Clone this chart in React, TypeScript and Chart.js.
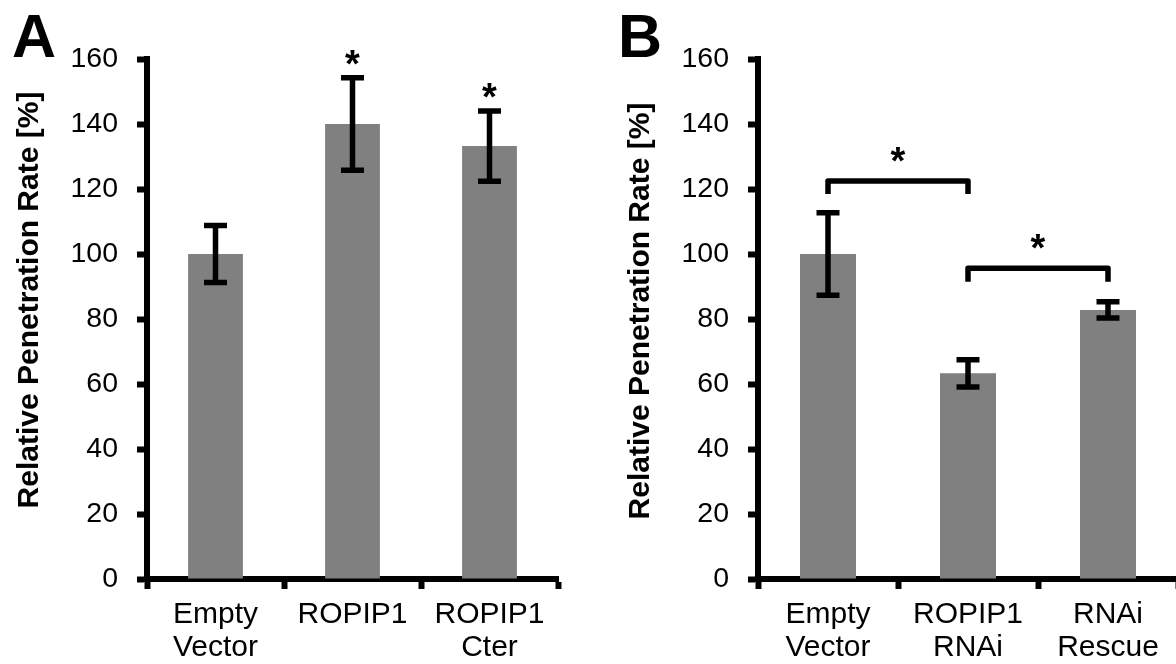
import React, { useEffect, useRef } from "react";
import { Chart, registerables } from "chart.js";

Chart.register(...registerables);

// ---------- data ----------
const categoriesA: (string | string[])[] = [["Empty", "Vector"], "ROPIP1", ["ROPIP1", "Cter"]];
const valuesA = [100, 140, 133.2];
const errorsA = [8.8, 14.2, 10.8];
const significantA = [false, true, true];

const categoriesB: (string | string[])[] = [["Empty", "Vector"], ["ROPIP1", "RNAi"], ["RNAi", "Rescue"]];
const valuesB = [100, 63.3, 82.8];
const errorsB = [12.7, 4.2, 2.5];
const bracketFromB = [0, 1];
const bracketToB = [1, 2];
const bracketLevelB = [122.5, 95.6];
const bracketEndB = [118.5, 91.5];

const yTickValues = [0, 20, 40, 60, 80, 100, 120, 140, 160];
const yTitle = "Relative Penetration Rate [%]";

const FONT = '"Liberation Sans", Arial, Helvetica, sans-serif';
const BAR_COLOR = "#808080";

type PanelCfg = {
  letter: string;
  letterX: number;
  categories: (string | string[])[];
  values: number[];
  errors: number[];
  stars: boolean[];
  brackets: { from: number; to: number; level: number; end: number }[];
  titleX: number;
  titleY: number;
  chartLeft: number;
  chartRightPad: number;
  width: number;
};

function makePlugin(cfg: PanelCfg) {
  return {
    id: "panelDecor",
    afterDatasetsDraw(chart: any) {
      const ctx = chart.ctx as CanvasRenderingContext2D;
      const xs = chart.scales.x;
      const ys = chart.scales.y;
      ctx.save();
      ctx.strokeStyle = "#000";
      ctx.lineWidth = 5.5;
      ctx.lineCap = "butt";
      cfg.values.forEach((v, i) => {
        const px = xs.getPixelForValue(i);
        const top = ys.getPixelForValue(v + cfg.errors[i]);
        const bot = ys.getPixelForValue(v - cfg.errors[i]);
        const cw = 23;
        ctx.beginPath();
        ctx.moveTo(px, top);
        ctx.lineTo(px, bot);
        ctx.moveTo(px - cw / 2, top);
        ctx.lineTo(px + cw / 2, top);
        ctx.moveTo(px - cw / 2, bot);
        ctx.lineTo(px + cw / 2, bot);
        ctx.stroke();
      });
      ctx.restore();
    },
    afterDraw(chart: any) {
      const ctx = chart.ctx as CanvasRenderingContext2D;
      const xs = chart.scales.x;
      const ys = chart.scales.y;
      ctx.save();
      ctx.fillStyle = "#000";
      // stars above error bars
      ctx.font = `bold 38px ${FONT}`;
      ctx.textAlign = "center";
      ctx.textBaseline = "alphabetic";
      cfg.stars.forEach((s, i) => {
        if (!s) return;
        const px = xs.getPixelForValue(i);
        const top = ys.getPixelForValue(cfg.values[i] + cfg.errors[i]);
        const cy = top - 22;
        ctx.fillText("*", px, cy + 21);
      });
      // brackets
      ctx.strokeStyle = "#000";
      ctx.lineWidth = 5.5;
      ctx.lineJoin = "round";
      ctx.lineCap = "butt";
      cfg.brackets.forEach((b) => {
        const x1 = xs.getPixelForValue(b.from);
        const x2 = xs.getPixelForValue(b.to);
        const yl = ys.getPixelForValue(b.level);
        const ye = ys.getPixelForValue(b.end);
        ctx.beginPath();
        ctx.moveTo(x1, ye);
        ctx.lineTo(x1, yl);
        ctx.lineTo(x2, yl);
        ctx.lineTo(x2, ye);
        ctx.stroke();
        const cy = yl - 28;
        ctx.fillText("*", (x1 + x2) / 2, cy + 21);
      });
      // y title
      ctx.save();
      ctx.translate(cfg.titleX, cfg.titleY);
      ctx.rotate(-Math.PI / 2);
      ctx.font = `bold 30px ${FONT}`;
      ctx.textAlign = "center";
      ctx.textBaseline = "middle";
      ctx.fillText(yTitle, 0, 0);
      ctx.restore();
      // panel letter
      ctx.font = `bold 61px ${FONT}`;
      ctx.textAlign = "left";
      ctx.textBaseline = "alphabetic";
      ctx.fillText(cfg.letter, cfg.letterX, 57);
      ctx.restore();
    },
  };
}

function Panel({ cfg, left }: { cfg: PanelCfg; left: number }) {
  const ref = useRef<HTMLCanvasElement | null>(null);
  useEffect(() => {
    if (!ref.current) return;
    const chart = new Chart(ref.current, {
      type: "bar",
      data: {
        labels: cfg.categories as any,
        datasets: [
          {
            data: cfg.values,
            backgroundColor: BAR_COLOR,
            borderWidth: 0,
            barPercentage: 0.4,
            categoryPercentage: 1,
          },
        ],
      },
      options: {
        responsive: false,
        animation: false,
        devicePixelRatio: 1,
        events: [],
        layout: { padding: { left: 0, top: 59, right: cfg.chartRightPad, bottom: 0 } },
        plugins: {
          legend: { display: false },
          tooltip: { enabled: false },
          title: { display: false },
        },
        scales: {
          x: {
            type: "category",
            offset: true,
            z: 1,
            grid: {
              display: true,
              offset: true,
              drawOnChartArea: false,
              drawTicks: true,
              tickLength: 10,
              tickWidth: 6,
              tickColor: "#000",
            },
            border: { display: true, color: "#000", width: 6 },
            ticks: {
              color: "#000",
              font: { family: FONT, size: 30, lineHeight: 1.1 },
              padding: 9,
              maxRotation: 0,
              minRotation: 0,
              autoSkip: false,
            },
            afterFit: (s: any) => {
              s.height = 664 - 579;
              s.paddingLeft = 0;
              s.paddingRight = 0;
            },
          },
          y: {
            min: 0,
            max: 160,
            z: 1,
            grid: {
              display: true,
              drawOnChartArea: false,
              drawTicks: true,
              tickLength: 10,
              tickWidth: 6,
              tickColor: "#000",
            },
            border: { display: true, color: "#000", width: 6 },
            ticks: {
              color: "#000",
              font: { family: FONT, size: 28.5 },
              padding: 19,
            },
            afterBuildTicks: (s: any) => {
              s.ticks = yTickValues.map((v) => ({ value: v }));
            },
            afterFit: (s: any) => {
              s.width = cfg.chartLeft;
              s.paddingTop = 0;
              s.paddingBottom = 0;
            },
          },
        },
      } as any,
      plugins: [makePlugin(cfg) as any],
    });
    return () => chart.destroy();
  }, []);
  return (
    <canvas
      ref={ref}
      width={cfg.width}
      height={664}
      style={{ position: "absolute", left, top: 0, width: cfg.width, height: 664 }}
    />
  );
}

const panelA: PanelCfg = {
  letter: "A",
  letterX: 12,
  categories: categoriesA,
  values: valuesA,
  errors: errorsA,
  stars: significantA,
  brackets: [],
  titleX: 30,
  titleY: 300,
  chartLeft: 147,
  chartRightPad: 22,
  width: 580,
};

const panelB: PanelCfg = {
  letter: "B",
  letterX: 38,
  categories: categoriesB,
  values: valuesB,
  errors: errorsB,
  stars: [false, false, false],
  brackets: bracketFromB.map((f, i) => ({
    from: f,
    to: bracketToB[i],
    level: bracketLevelB[i],
    end: bracketEndB[i],
  })),
  titleX: 61,
  titleY: 311,
  chartLeft: 178,
  chartRightPad: 2,
  width: 600,
};

export default function App() {
  return (
    <div
      style={{
        position: "fixed",
        left: 0,
        top: 0,
        width: 1176,
        height: 664,
        overflow: "hidden",
        background: "#fff",
      }}
    >
      <Panel cfg={panelA} left={0} />
      <Panel cfg={panelB} left={580} />
    </div>
  );
}
